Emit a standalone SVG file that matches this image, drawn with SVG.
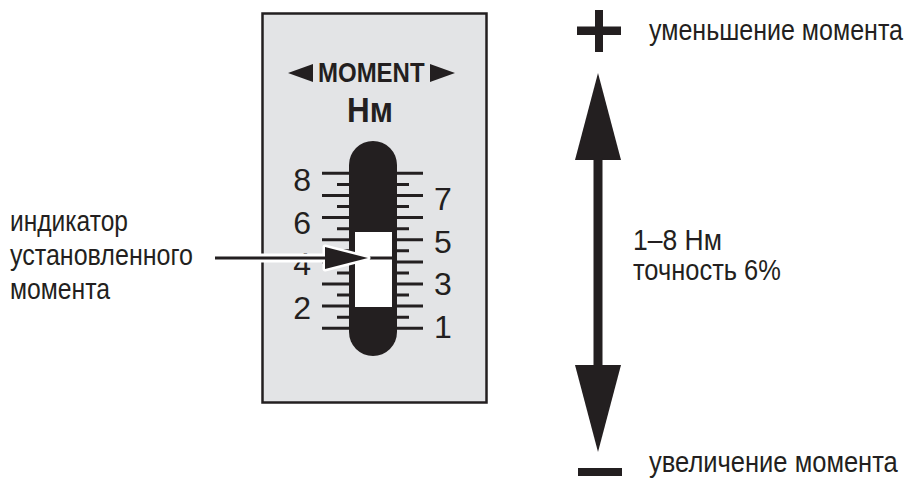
<svg xmlns="http://www.w3.org/2000/svg" width="911" height="479" viewBox="0 0 911 479">
<style>
.t{font-family:"Liberation Sans",Arial,sans-serif;fill:#231f20;font-size:29px}
.d{font-family:"Liberation Sans",Arial,sans-serif;fill:#231f20;font-size:32px}
.b{font-family:"Liberation Sans",Arial,sans-serif;fill:#231f20;font-weight:bold}
.tk{stroke:#231f20;stroke-width:3}
.k{fill:#231f20}
</style>
<g id="panel">
<rect x="262.5" y="13.5" width="224" height="389" fill="#e3e4e6" stroke="#231f20" stroke-width="2.5"/>
<polygon class="k" points="288,73 313,64 313,82"/>
<polygon class="k" points="455,73 430,64 430,82"/>
<text class="b" transform="translate(318,82) scale(0.82,1)" font-size="27" textLength="130" lengthAdjust="spacingAndGlyphs">MOMENT</text>
<text class="b" transform="translate(347,122) scale(0.85,1)" font-size="35" textLength="54" lengthAdjust="spacingAndGlyphs">Нм</text>
</g>
<g id="scale">
<g class="tk">
<line x1="322" x2="423" y1="173.3" y2="173.3"/>
<line x1="337" x2="409" y1="184.4" y2="184.4"/>
<line x1="322" x2="423" y1="195.4" y2="195.4"/>
<line x1="337" x2="409" y1="206.5" y2="206.5"/>
<line x1="322" x2="423" y1="217.6" y2="217.6"/>
<line x1="337" x2="409" y1="228.7" y2="228.7"/>
<line x1="322" x2="423" y1="239.7" y2="239.7"/>
<line x1="337" x2="409" y1="250.8" y2="250.8"/>
<line x1="322" x2="423" y1="261.9" y2="261.9"/>
<line x1="337" x2="409" y1="272.9" y2="272.9"/>
<line x1="322" x2="423" y1="284" y2="284"/>
<line x1="337" x2="409" y1="295.1" y2="295.1"/>
<line x1="322" x2="423" y1="306.1" y2="306.1"/>
<line x1="337" x2="409" y1="317.2" y2="317.2"/>
<line x1="322" x2="423" y1="328.3" y2="328.3"/>
</g>
<text class="d" x="311" y="190.5" text-anchor="end">8</text>
<text class="d" x="311" y="234" text-anchor="end">6</text>
<text class="d" x="311" y="274.5" text-anchor="end">4</text>
<text class="d" x="311" y="318.5" text-anchor="end">2</text>
<text class="d" x="434" y="209.5">7</text>
<text class="d" x="434" y="252.5">5</text>
<text class="d" x="434" y="295">3</text>
<text class="d" x="434" y="337.5">1</text>
<rect x="349" y="141" width="48" height="215" rx="24" class="k"/>
<rect x="355" y="232" width="37" height="75" fill="#fff"/>
<line x1="365" x2="393" y1="258" y2="258" class="tk"/>
</g>
<g id="label-indicator">
<text class="t" transform="translate(10,231) scale(0.87,1)" textLength="135.6" lengthAdjust="spacingAndGlyphs">индикатор</text>
<text class="t" transform="translate(10,265) scale(0.87,1)" textLength="210.3" lengthAdjust="spacingAndGlyphs">установленного</text>
<text class="t" transform="translate(10,299) scale(0.87,1)" textLength="115" lengthAdjust="spacingAndGlyphs">момента</text>
</g>
<g id="range">
<rect x="577" y="26.5" width="44" height="8.5" class="k"/>
<rect x="595" y="10" width="8" height="42" class="k"/>
<text class="t" transform="translate(649,40) scale(0.87,1)" textLength="292" lengthAdjust="spacingAndGlyphs">уменьшение момента</text>
<rect x="578" y="468" width="44" height="8" class="k"/>
<text class="t" transform="translate(649,472) scale(0.87,1)" textLength="286" lengthAdjust="spacingAndGlyphs">увеличение момента</text>
<text class="t" transform="translate(633,250) scale(0.87,1)" textLength="102.3" lengthAdjust="spacingAndGlyphs">1–8 Нм</text>
<text class="t" transform="translate(633,280) scale(0.87,1)" textLength="170" lengthAdjust="spacingAndGlyphs">точность 6%</text>
</g>
<g id="connectors">
<g id="pointer">
<line x1="258" x2="330" y1="258" y2="258" stroke="#fff" stroke-width="9"/>
<polygon points="325,247 368,258 325,269" fill="#fff" stroke="#fff" stroke-width="5" stroke-linejoin="round"/>
<line x1="215" x2="330" y1="258" y2="258" class="tk" stroke-width="3.5"/>
<polygon class="k" points="325,247 368,258 325,269"/>
</g>
<g id="range-arrow">
<polygon class="k" points="598,73 575,160 621,160"/>
<rect x="593.5" y="158" width="9" height="209" class="k"/>
<polygon class="k" points="575,365 621,365 598,452"/>
</g>
</g>
</svg>
